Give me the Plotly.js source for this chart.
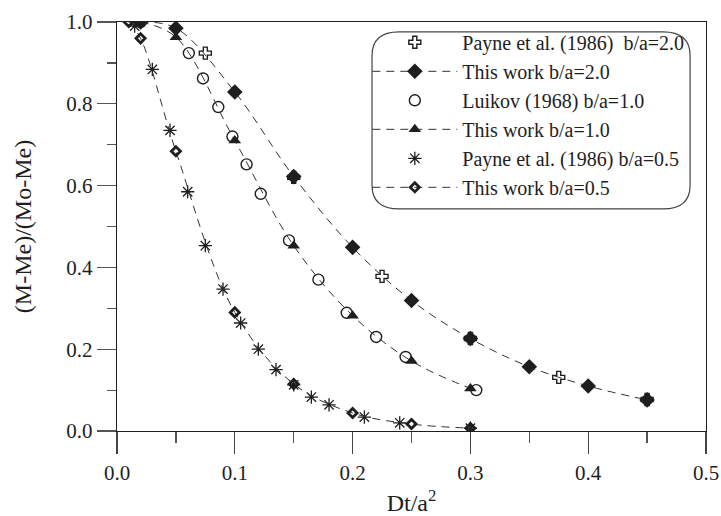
<!DOCTYPE html>
<html>
<head>
<meta charset="utf-8">
<script src="https://cdn.plot.ly/plotly-3.0.1.min.js"></script>
<style>
  html, body { margin: 0; padding: 0; background: #fff; }
  #chart { width: 721px; height: 516px; }
</style>
</head>
<body>
<div id="chart"></div>
<script>
// Drying curves: dimensionless moisture ratio vs. dimensionless time Dt/a^2

// Payne et al. (1986), b/a = 2.0
const payne20X = [0.075, 0.15, 0.225, 0.30, 0.375, 0.45];
const payne20Y = [0.924, 0.620, 0.378, 0.226, 0.131, 0.077];

// This work, b/a = 2.0
const work20X = [0.02, 0.05, 0.10, 0.15, 0.20, 0.25, 0.30, 0.35, 0.40, 0.45];
const work20Y = [1.000, 0.985, 0.829, 0.622, 0.449, 0.319, 0.226, 0.157, 0.110, 0.076];

// Luikov (1968), b/a = 1.0
const luikov10X = [0.02, 0.061, 0.073, 0.086, 0.098, 0.110, 0.122, 0.146, 0.171, 0.195, 0.220, 0.245, 0.305];
const luikov10Y = [1.000, 0.924, 0.862, 0.792, 0.720, 0.652, 0.580, 0.466, 0.370, 0.289, 0.230, 0.181, 0.100];

// This work, b/a = 1.0
const work10X = [0.02, 0.05, 0.10, 0.15, 0.20, 0.25, 0.30];
const work10Y = [1.000, 0.963, 0.710, 0.453, 0.282, 0.171, 0.104];

// Payne et al. (1986), b/a = 0.5
const payne05X = [0.015, 0.030, 0.045, 0.060, 0.075, 0.090, 0.105, 0.120, 0.135, 0.150, 0.165, 0.180, 0.210, 0.240, 0.300];
const payne05Y = [0.990, 0.884, 0.735, 0.585, 0.453, 0.347, 0.264, 0.200, 0.150, 0.113, 0.083, 0.064, 0.034, 0.020, 0.007];

// This work, b/a = 0.5
const work05X = [0.01, 0.02, 0.05, 0.10, 0.15, 0.20, 0.25, 0.30];
const work05Y = [1.000, 0.960, 0.684, 0.290, 0.115, 0.044, 0.017, 0.007];

const xTickVals = [0, 0.1, 0.2, 0.3, 0.4, 0.5];
const xTickText = ['0.0', '0.1', '0.2', '0.3', '0.4', '0.5'];
const yTickVals = [0, 0.2, 0.4, 0.6, 0.8, 1.0];
const yTickText = ['0.0', '0.2', '0.4', '0.6', '0.8', '1.0'];

const legendNames = [
  'Payne et al. (1986)&nbsp; b/a=2.0',
  'This work b/a=2.0',
  'Luikov (1968) b/a=1.0',
  'This work b/a=1.0',
  'Payne et al. (1986) b/a=0.5',
  'This work b/a=0.5'
];

const INK = '#1e1e1e';
const dashLine = { color: '#333', width: 1, dash: '8px,6px', shape: 'spline', smoothing: 1 };

const traces = [
  {
    x: payne20X, y: payne20Y, name: legendNames[0], mode: 'markers', legendgroup: 'a',
    marker: { symbol: 'cross-open', size: 10, color: INK, line: { color: INK, width: 1.4 } }
  },
  {
    x: work20X, y: work20Y, name: legendNames[1], mode: 'lines+markers', legendgroup: 'b',
    line: dashLine,
    marker: { symbol: 'diamond', size: 12, color: INK, line: { width: 0 } }
  },
  {
    x: luikov10X, y: luikov10Y, name: legendNames[2], mode: 'markers', legendgroup: 'c',
    marker: { symbol: 'circle-open', size: 11, color: INK, line: { color: INK, width: 1.4 } }
  },
  {
    x: work10X, y: work10Y, name: legendNames[3], mode: 'lines+markers', legendgroup: 'd',
    line: dashLine,
    marker: { symbol: 'triangle-up', size: 11, color: INK, line: { width: 0 } }
  },
  {
    x: payne05X, y: payne05Y, name: legendNames[4], mode: 'markers', legendgroup: 'e',
    marker: { symbol: 'asterisk-open', size: 11, color: INK, line: { color: INK, width: 1.3 } }
  },
  {
    x: work05X, y: work05Y, name: legendNames[5], mode: 'lines+markers', legendgroup: 'f',
    line: dashLine,
    marker: { symbol: 'diamond-open', size: 7, color: INK, line: { color: INK, width: 2.8 } }
  }
];

// Rounded frame around the legend, in paper coordinates
const bx0 = 0.433, bx1 = 0.973, by0 = 0.543, by1 = 0.976;
const rx = 0.046, ry = 0.058;
const boxPath =
  `M ${bx0 + rx},${by1} L ${bx1 - rx},${by1} Q ${bx1},${by1} ${bx1},${by1 - ry} ` +
  `L ${bx1},${by0 + ry} Q ${bx1},${by0} ${bx1 - rx},${by0} ` +
  `L ${bx0 + rx},${by0} Q ${bx0},${by0} ${bx0},${by0 + ry} ` +
  `L ${bx0},${by1 - ry} Q ${bx0},${by1} ${bx0 + rx},${by1} Z`;

const font = { family: '"Liberation Serif", "Times New Roman", serif', color: INK };

const layout = {
  width: 721, height: 516,
  margin: { l: 117, r: 15, t: 22, b: 85 },
  paper_bgcolor: '#fff', plot_bgcolor: '#fff',
  font: Object.assign({ size: 21 }, font),
  showlegend: true,
  legend: {
    x: 0.425, y: 0.998, xanchor: 'left', yanchor: 'top',
    bgcolor: 'rgba(0,0,0,0)', borderwidth: 0,
    font: Object.assign({ size: 20 }, font),
    traceorder: 'grouped', tracegroupgap: 0,
    itemwidth: 85
  },
  xaxis: {
    range: [0, 0.5], tickvals: xTickVals, ticktext: xTickText,
    showgrid: false, zeroline: false,
    showline: true, mirror: true, linecolor: INK, linewidth: 1.3,
    ticks: 'outside', ticklen: 22, tickwidth: 1.2, tickcolor: '#444',
    minor: { dtick: 0.05, tick0: 0, ticks: 'outside', ticklen: 11, tickwidth: 1.2, tickcolor: '#555', showgrid: false },
    tickfont: Object.assign({ size: 21 }, font),
    title: { text: 'Dt/a<sup>2</sup>', font: Object.assign({ size: 24 }, font), standoff: 12 }
  },
  yaxis: {
    range: [0, 1.0], tickvals: yTickVals, ticktext: yTickText,
    showgrid: false, zeroline: false,
    showline: true, mirror: true, linecolor: INK, linewidth: 1.3,
    ticks: 'outside', ticklen: 19, tickwidth: 1.2, tickcolor: '#555',
    minor: { dtick: 0.1, tick0: 0, ticks: 'outside', ticklen: 9, tickwidth: 1.2, tickcolor: '#555', showgrid: false },
    tickfont: Object.assign({ size: 21 }, font),
    title: { text: '(M-Me)/(Mo-Me)', font: Object.assign({ size: 24 }, font), standoff: 28 }
  },
  shapes: [{
    type: 'path', xref: 'paper', yref: 'paper', path: boxPath,
    line: { color: '#444', width: 1.2 }, fillcolor: 'rgba(0,0,0,0)', layer: 'above'
  }]
};

Plotly.newPlot('chart', traces, layout, { staticPlot: true, displayModeBar: false });
</script>
</body>
</html>
